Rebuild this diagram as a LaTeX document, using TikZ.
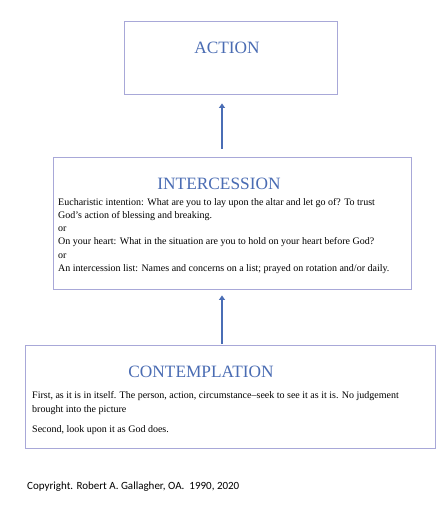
\documentclass[tikz,border=0pt]{standalone}
\usepackage{fontspec}
\setmainfont{Liberation Serif}
\newfontfamily\copyfont{Carlito}
\usetikzlibrary{arrows.meta}
\definecolor{titleblue}{HTML}{4A6CB3}
\definecolor{boxline}{HTML}{A8A8D8}
\definecolor{arrowblue}{HTML}{4A6DB5}
\begin{document}
\begin{tikzpicture}[x=1pt,y=-1pt,
  box/.style={draw=boxline,line width=0.9pt,rectangle,inner sep=0pt},
  ttl/.style={anchor=base,text=titleblue,inner sep=0pt,font=\fontsize{17.3}{20}\selectfont},
  body/.style={anchor=base west,inner sep=0pt,font=\fontsize{10}{12}\selectfont},
  arr/.style={draw=arrowblue,line width=2.8pt,-{Triangle[width=6pt,length=4.5pt]}}]
\useasboundingbox[fill=white] (0,0) rectangle (446,517);
% boxes
\node[box,minimum width=213pt,minimum height=73pt] (act) at (230.5,57.5) {};
\node[box,minimum width=358pt,minimum height=132pt] (inter) at (232,223) {};
\node[box,minimum width=410pt,minimum height=103pt] (cont) at (230,396.5) {};
% titles
\node[ttl] (actT) at (227,53) {ACTION};
\node[ttl] (interT) at (219,189) {INTERCESSION};
\node[ttl] (contT) at (201,377) {CONTEMPLATION};
% intercession text
\node[body] (i1) at (58,205) {Eucharistic intention: What are you to lay upon the altar and let go of? To trust};
\node[body] (i2) at (58,218.3) {God’s action of blessing and breaking.};
\node[body] (i3) at (58,231.6) {or};
\node[body] (i4) at (58,244.9) {On your heart: What in the situation are you to hold on your heart before God?};
\node[body] (i5) at (58,258.2) {or};
\node[body] (i6) at (58,271.5) {An intercession list: Names and concerns on a list; prayed on rotation and/or daily.};
% contemplation text
\node[body] (c1) at (32,398) {First, as it is in itself. The person, action, circumstance--seek to see it as it is. No judgement};
\node[body] (c2) at (32,412) {brought into the picture};
\node[body] (c3) at (32,432) {Second, look upon it as God does.};
% copyright
\node[anchor=base west,inner sep=0pt,font=\copyfont\fontsize{11}{13}\selectfont] (copy) at (27,489) {Copyright. Robert A. Gallagher, OA.\ \ 1990, 2020};
% arrows
\coordinate (ax) at (222,0);
\draw[arr,shorten <=8pt,shorten >=9pt] (ax |- inter.north) -- (ax |- act.south);
\draw[arr,shorten <=0.5pt,shorten >=6pt] (ax |- cont.north) -- (ax |- inter.south);
\end{tikzpicture}
\end{document}
